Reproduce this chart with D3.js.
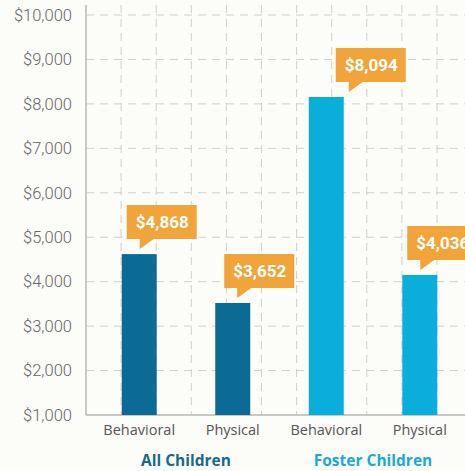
<!DOCTYPE html>
<html>
<head>
<meta charset="utf-8">
<script src="https://cdn.jsdelivr.net/npm/d3@7"></script>
<style>
  body { margin: 0; background: #fcfcf9; }
  svg { display: block; }
</style>
</head>
<body>
<svg id="chart" width="465" height="471"></svg>
<script>
// data
const categories = ['Behavioral', 'Physical', 'Behavioral', 'Physical'];
const groups = ['All Children', 'All Children', 'Foster Children', 'Foster Children'];
const groupNames = ['All Children', 'Foster Children'];
const barValues = [4620, 3520, 8155, 4150];      // bar heights as drawn
const labelValues = [4868, 3652, 8094, 4036];    // callout numbers
const yTicks = [1000, 2000, 3000, 4000, 5000, 6000, 7000, 8000, 9000, 10000];

const groupColor = { 'All Children': '#0b6b94', 'Foster Children': '#0aaedb' };
const groupTextColor = { 'All Children': '#17698f', 'Foster Children': '#1ba9d4' };
const calloutShift = [5, 9, 27, 5];

const svg = d3.select('#chart');
const keys = categories.map((c, i) => i);

const y = d3.scaleLinear().domain([1000, 10000]).range([415, 15]);
const x = d3.scaleBand()
  .domain(keys)
  .range([92, 467])
  .paddingInner(0.626)
  .paddingOuter(0.318);

// vertical dashed grid
const gx = d3.scaleLinear().domain([0, 10]).range([86, 437]);
svg.append('g')
  .selectAll('line')
  .data(d3.range(1, 11))
  .enter()
  .append('line')
  .attr('x1', d => gx(d)).attr('x2', d => gx(d))
  .attr('y1', 5).attr('y2', y(1000))
  .attr('stroke', '#cfcfcf')
  .attr('stroke-width', 1)
  .attr('stroke-dasharray', '8,6');

// horizontal dashed grid
svg.append('g')
  .selectAll('line')
  .data(yTicks.slice(1))
  .enter()
  .append('line')
  .attr('x1', 86).attr('x2', 465)
  .attr('y1', d => y(d)).attr('y2', d => y(d))
  .attr('stroke', '#cfcfcf')
  .attr('stroke-width', 1)
  .attr('stroke-dasharray', '8,6');

// y axis
const yAxis = svg.append('g')
  .attr('transform', 'translate(86,0)')
  .call(d3.axisLeft(y).tickValues(yTicks).tickSize(0).tickPadding(14)
    .tickFormat(d => '$' + d3.format(',')(d)));
yAxis.select('.domain').remove();
yAxis.selectAll('text')
  .attr('fill', '#666666')
  .style('font-family', 'Roboto, sans-serif')
  .style('font-weight', 300)
  .style('font-size', '16.5px');

svg.append('line')
  .attr('x1', 86).attr('x2', 86).attr('y1', 5).attr('y2', y(1000))
  .attr('stroke', '#b8b8b8').attr('stroke-width', 1.5);
svg.append('line')
  .attr('x1', 86).attr('x2', 465).attr('y1', y(1000)).attr('y2', y(1000))
  .attr('stroke', '#b8b8b8').attr('stroke-width', 1.5);

// bars
svg.append('g')
  .selectAll('rect')
  .data(keys)
  .enter()
  .append('rect')
  .attr('x', i => x(i))
  .attr('width', x.bandwidth())
  .attr('y', i => y(barValues[i]))
  .attr('height', i => y(1000) - y(barValues[i]))
  .attr('fill', i => groupColor[groups[i]]);

// callouts
const callouts = svg.append('g')
  .selectAll('g')
  .data(keys)
  .enter()
  .append('g')
  .attr('transform', i => `translate(${x(i) + calloutShift[i]},${y(barValues[i]) - 15})`);

callouts.append('text')
  .attr('x', 9)
  .attr('y', -11)
  .attr('fill', '#ffffff')
  .style('font-family', 'Roboto, sans-serif')
  .style('font-weight', 700)
  .style('font-size', '17px')
  .text(i => '$' + d3.format(',')(labelValues[i]));

callouts.each(function () {
  const g = d3.select(this);
  const w = g.select('text').node().getComputedTextLength() + 17;
  g.insert('path', 'text')
    .attr('d', `M0,-34H${w}V0H27L13,10V0H0Z`)
    .attr('fill', '#f1a43a');
});

// category labels
svg.append('g')
  .selectAll('text')
  .data(keys)
  .enter()
  .append('text')
  .attr('x', i => x(i) + x.bandwidth() / 2)
  .attr('y', 435)
  .attr('text-anchor', 'middle')
  .attr('fill', '#555555')
  .style('font-family', '"Open Sans", sans-serif')
  .style('font-size', '14.5px')
  .text(i => categories[i]);

// group labels
svg.append('g')
  .selectAll('text')
  .data(groupNames)
  .enter()
  .append('text')
  .attr('x', g => {
    const idx = keys.filter(i => groups[i] === g);
    return d3.mean(idx, i => x(i) + x.bandwidth() / 2);
  })
  .attr('y', 466)
  .attr('text-anchor', 'middle')
  .attr('fill', g => groupTextColor[g])
  .style('font-family', '"Open Sans", sans-serif')
  .style('font-weight', 700)
  .style('font-size', '15.5px')
  .text(g => g);
</script>
</body>
</html>
